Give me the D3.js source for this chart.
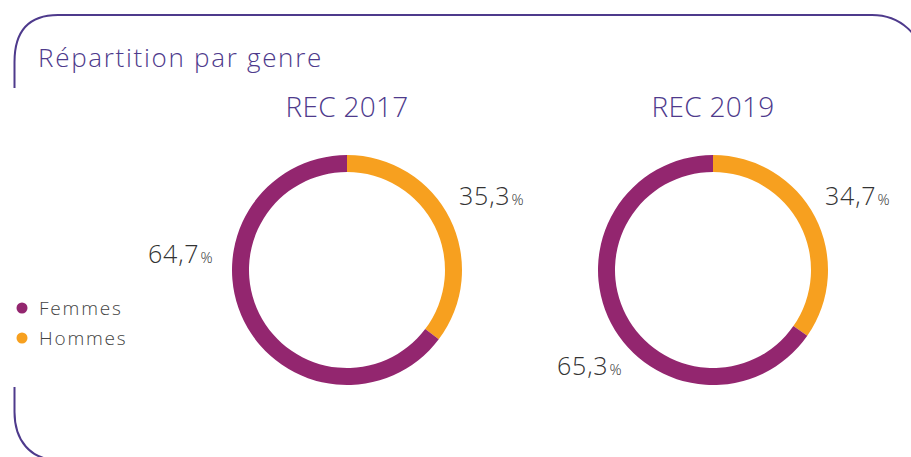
<!DOCTYPE html>
<html>
<head>
<meta charset="utf-8">
<script src="https://cdn.jsdelivr.net/npm/d3@7"></script>
<style>
  body { margin: 0; background: #fff; }
  text { font-family: "Open Sans", "Noto Sans", sans-serif; }
</style>
</head>
<body>
<svg width="911" height="457"></svg>
<script>
const WIDTH = 911;
const HEIGHT = 457;
const PURPLE = "#93266f";
const ORANGE = "#f7a01f";
const FRAME = "#4e3a8c";
const OUTER_R = 115;
const RING = 17;

const categories = ["Femmes", "Hommes"];
const years = ["REC 2017", "REC 2019"];
const femmes = [64.7, 65.3];
const hommes = [35.3, 34.7];
const colors = [PURPLE, ORANGE];

const svg = d3.select("svg");

// frame, open on the left side
const frame = d3.path();
frame.moveTo(14.5, 88);
frame.lineTo(14.5, 62);
frame.bezierCurveTo(14.5, 30, 30, 15, 58, 15);
frame.lineTo(872, 15);
frame.bezierCurveTo(900, 15, 922, 35, 922, 60);
frame.lineTo(922, 420);
frame.moveTo(14.5, 387);
frame.lineTo(14.5, 412);
frame.bezierCurveTo(14.5, 440, 30, 460, 58, 460);
frame.lineTo(880, 460);
svg.append("path")
  .attr("d", frame.toString())
  .attr("fill", "none")
  .attr("stroke", FRAME)
  .attr("stroke-width", 2);

svg.append("text")
  .attr("x", 38)
  .attr("y", 67)
  .attr("font-size", 26)
  .attr("font-weight", 300)
  .attr("letter-spacing", 1.7)
  .attr("fill", FRAME)
  .text("Répartition par genre");

const x = d3.scaleBand().domain(years).range([164, 896]);

const pie = d3.pie().sort(null).value(d => d.value);
const arc = d3.arc().innerRadius(OUTER_R - RING).outerRadius(OUTER_R);

// label anchors for each donut: [femmes, hommes]
const labelPos = [
  [{ dx: -199, dy: -7 }, { dx: 112, dy: -65 }],
  [{ dx: -156, dy: 105 }, { dx: 112, dy: -65 }]
];

years.forEach((year, i) => {
  const cx = x(year) + x.bandwidth() / 2;
  const cy = 270;
  svg.append("text")
    .attr("x", cx)
    .attr("y", 117)
    .attr("text-anchor", "middle")
    .attr("font-size", 28)
    .attr("font-weight", 300)
    .attr("letter-spacing", 0.3)
    .attr("fill", FRAME)
    .text(year);

  const data = [
    { name: categories[0], value: femmes[i] },
    { name: categories[1], value: hommes[i] }
  ];
  // hommes starts at 12 o'clock going clockwise, femmes fills the rest
  const arcs = pie.startAngle(0).endAngle(2 * Math.PI)([data[1], data[0]]);
  const g = svg.append("g").attr("transform", `translate(${cx},${cy})`);
  g.selectAll("path")
    .data(arcs)
    .join("path")
    .attr("d", arc)
    .attr("fill", d => d.data.name === "Femmes" ? PURPLE : ORANGE);

  data.forEach((d, j) => {
    const p = labelPos[i][j];
    const t = svg.append("text")
      .attr("x", cx + p.dx)
      .attr("y", cy + p.dy)
      .attr("font-size", 25)
      .attr("font-weight", 300)
      .attr("letter-spacing", 0.8)
      .attr("fill", "#333");
    t.append("tspan").text(String(d.value).replace(".", ","));
    t.append("tspan").attr("font-size", 15).attr("dx", 1).text("%");
  });
});

// legend
const legend = svg.append("g");
categories.forEach((c, i) => {
  legend.append("circle")
    .attr("cx", 22)
    .attr("cy", 308 + i * 30)
    .attr("r", 5.5)
    .attr("fill", colors[i]);
  legend.append("text")
    .attr("x", 39)
    .attr("y", 315 + i * 30)
    .attr("font-size", 19)
    .attr("font-weight", 300)
    .attr("letter-spacing", 1.8)
    .attr("fill", "#444")
    .text(c);
});
</script>
</body>
</html>
